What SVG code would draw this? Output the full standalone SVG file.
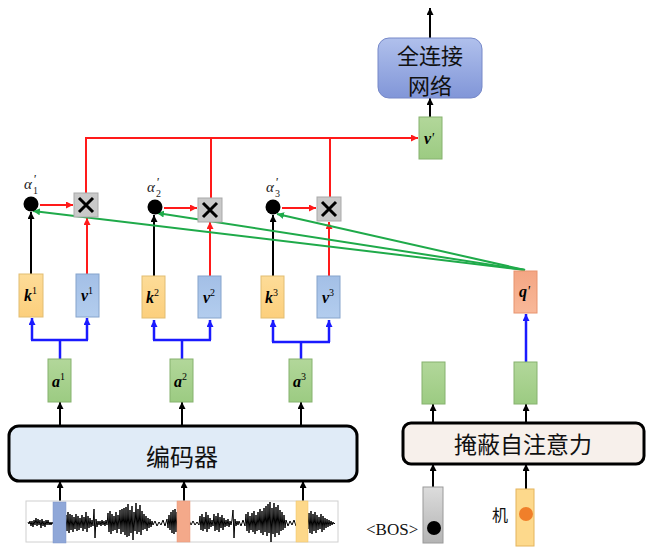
<svg xmlns="http://www.w3.org/2000/svg" width="651" height="552" viewBox="0 0 651 552">
<style>
.k{fill:url(#gk);stroke:#e2bd72;stroke-width:1}
.v{fill:url(#gv);stroke:#86a4cc;stroke-width:1}
.a{fill:url(#ga);stroke:#86b26e;stroke-width:1}
.x{fill:#c9c9c9;stroke:#a9a9a9;stroke-width:1}
.xm{stroke:#000;stroke-width:3;stroke-linecap:butt}
.lbl{font-family:"Liberation Serif",serif;font-weight:bold;font-style:italic;font-size:16px;fill:#000}
.sup{font-size:10px;font-weight:normal;font-style:normal}
.pr{font-family:"Liberation Serif",serif;font-size:14px;font-weight:normal;font-style:italic}
.al{font-family:"Liberation Serif",serif;font-style:italic;font-size:15px;fill:#222}
.sm{font-family:"Liberation Serif",serif;font-size:10px;fill:#222}
.ap{font-family:"Liberation Serif",serif;font-size:13px;font-style:italic;fill:#222}
.cjk{font-family:"Noto Sans CJK SC","Noto Sans",sans-serif;fill:#111}
.bk{stroke:#000;stroke-width:2;fill:none;marker-end:url(#mb)}
.rd{stroke:#ff1a1a;stroke-width:2;fill:none}
.rda{stroke:#ff1a1a;stroke-width:2;fill:none;marker-end:url(#mr)}
.bl{stroke:#1a1aff;stroke-width:2.5;fill:none}
.bla{stroke:#1a1aff;stroke-width:2.5;fill:none;marker-end:url(#mbl)}
.gr{stroke:#1faa4a;stroke-width:2;fill:none;marker-end:url(#mg)}
</style>
<defs>
<linearGradient id="gk" x1="0" y1="0" x2="0" y2="1"><stop offset="0" stop-color="#fddc98"/><stop offset="1" stop-color="#fccf7c"/></linearGradient>
<linearGradient id="gv" x1="0" y1="0" x2="0" y2="1"><stop offset="0" stop-color="#a3bfe6"/><stop offset="1" stop-color="#b3cdee"/></linearGradient>
<linearGradient id="ga" x1="0" y1="0" x2="0" y2="1"><stop offset="0" stop-color="#b2d79a"/><stop offset="1" stop-color="#9ccb82"/></linearGradient>
<linearGradient id="gq" x1="0" y1="0" x2="0" y2="1"><stop offset="0" stop-color="#f4a684"/><stop offset="1" stop-color="#f8b899"/></linearGradient>
<linearGradient id="gfc" x1="0" y1="0" x2="0" y2="1"><stop offset="0" stop-color="#b0c0ec"/><stop offset="1" stop-color="#8196d8"/></linearGradient>
<linearGradient id="ggray" x1="0" y1="0" x2="0" y2="1"><stop offset="0" stop-color="#dcdcdc"/><stop offset="1" stop-color="#b4b4b4"/></linearGradient>
<marker id="mb" viewBox="0 0 10 10" refX="10" refY="5" markerWidth="7" markerHeight="7" markerUnits="userSpaceOnUse" orient="auto"><path d="M0,0L10,5L0,10z" fill="#000"/></marker>
<marker id="mr" viewBox="0 0 10 10" refX="10" refY="5" markerWidth="7" markerHeight="7" markerUnits="userSpaceOnUse" orient="auto"><path d="M0,0L10,5L0,10z" fill="#ff1a1a"/></marker>
<marker id="mbl" viewBox="0 0 10 10" refX="10" refY="5" markerWidth="7" markerHeight="7" markerUnits="userSpaceOnUse" orient="auto"><path d="M0,0L10,5L0,10z" fill="#1a1aff"/></marker>
<marker id="mg" viewBox="0 0 10 10" refX="10" refY="5" markerWidth="7" markerHeight="7" markerUnits="userSpaceOnUse" orient="auto"><path d="M0,0L10,5L0,10z" fill="#1faa4a"/></marker>
</defs>
<rect width="651" height="552" fill="#fff"/>

<g id="connectors">
<path class="bk" d="M430,38V8"/>
<path class="bk" d="M430,117V98"/>
<path class="bk" d="M31,274V212"/>
<path class="bk" d="M154,276V215"/>
<path class="bk" d="M273,276V215"/>
<path class="bk" d="M60,426V402"/>
<path class="bk" d="M182,426V402"/>
<path class="bk" d="M301,426V402"/>
<path class="bk" d="M60,501V481"/>
<path class="bk" d="M184,501V481"/>
<path class="bk" d="M303,501V481"/>
<path class="bk" d="M433,423V404"/>
<path class="bk" d="M526,423V404"/>
<path class="bk" d="M433,487V464"/>
<path class="bk" d="M526,489V464"/>
<path class="rda" d="M40,205H73"/>
<path class="rda" d="M164,208H197"/>
<path class="rda" d="M282,208H316"/>
<path class="rda" d="M87,274V218"/>
<path class="rda" d="M210,276V222"/>
<path class="rda" d="M329,276V222"/>
<path class="rda" d="M86,193V138H418"/>
<path class="rd" d="M211,198V138"/>
<path class="rd" d="M330,197V138"/>
<path class="bl" d="M60,359V340M31,340H88"/>
<path class="bla" d="M32,340V318"/>
<path class="bla" d="M87,340V318"/>
<path class="bl" d="M182,359V340M153,340H211"/>
<path class="bla" d="M154,340V320"/>
<path class="bla" d="M210,340V320"/>
<path class="bl" d="M301,359V342M272,342H330"/>
<path class="bla" d="M273,342V320"/>
<path class="bla" d="M329,342V320"/>
<path class="bla" d="M526,362V314"/>
<path class="gr" d="M525,270L33,211"/>
<path class="gr" d="M525,270L157,213"/>
<path class="gr" d="M525,270L277,214"/>
</g>

<g id="fc">
<rect x="378" y="38" width="104" height="60" rx="11" fill="url(#gfc)" stroke="#7688c8" stroke-width="1"/>
<text class="cjk" x="430" y="64" font-size="22" text-anchor="middle">全连接</text>
<text class="cjk" x="430" y="94" font-size="22" text-anchor="middle">网络</text>
</g>

<g id="vprime">
<rect class="a" x="419" y="117" width="23" height="42"/>
<text class="lbl" x="424" y="144">v<tspan class="pr" dy="-1">'</tspan></text>
</g>

<g id="alpha1">
<circle cx="31" cy="204" r="7.5" fill="#000"/>
<text class="al" x="24" y="189">α</text>
<text class="ap" x="33" y="183">'</text>
<text class="sm" x="33" y="194">1</text>
</g>
<g id="alpha2">
<circle cx="155" cy="207" r="7.5" fill="#000"/>
<text class="al" x="147" y="192">α</text>
<text class="ap" x="156" y="186">'</text>
<text class="sm" x="156" y="197">2</text>
</g>
<g id="alpha3">
<circle cx="273" cy="207" r="7.5" fill="#000"/>
<text class="al" x="266" y="192">α</text>
<text class="ap" x="275" y="186">'</text>
<text class="sm" x="275" y="197">3</text>
</g>

<g id="mul1"><rect class="x" x="74" y="193" width="24" height="24"/><path class="xm" d="M79,198L93,212M93,198L79,212"/></g>
<g id="mul2"><rect class="x" x="198" y="198" width="24" height="24"/><path class="xm" d="M203,203L217,217M217,203L203,217"/></g>
<g id="mul3"><rect class="x" x="317" y="197" width="24" height="24"/><path class="xm" d="M322,202L336,216M336,202L322,216"/></g>

<g id="k1"><rect class="k" x="19" y="274" width="24" height="43"/><text class="lbl" x="24" y="301">k<tspan class="sup" dy="-7">1</tspan></text></g>
<g id="v1"><rect class="v" x="76" y="274" width="23" height="43"/><text class="lbl" x="81" y="301">v<tspan class="sup" dy="-7">1</tspan></text></g>
<g id="k2"><rect class="k" x="142" y="276" width="23" height="42"/><text class="lbl" x="146" y="303">k<tspan class="sup" dy="-7">2</tspan></text></g>
<g id="v2"><rect class="v" x="198" y="276" width="23" height="42"/><text class="lbl" x="203" y="303">v<tspan class="sup" dy="-7">2</tspan></text></g>
<g id="k3"><rect class="k" x="261" y="276" width="23" height="42"/><text class="lbl" x="265" y="303">k<tspan class="sup" dy="-7">3</tspan></text></g>
<g id="v3"><rect class="v" x="317" y="276" width="23" height="42"/><text class="lbl" x="322" y="303">v<tspan class="sup" dy="-7">3</tspan></text></g>

<g id="a1"><rect class="a" x="48" y="359" width="23" height="43"/><text class="lbl" x="52" y="387">a<tspan class="sup" dy="-7">1</tspan></text></g>
<g id="a2"><rect class="a" x="170" y="359" width="23" height="43"/><text class="lbl" x="174" y="387">a<tspan class="sup" dy="-7">2</tspan></text></g>
<g id="a3"><rect class="a" x="289" y="359" width="23" height="43"/><text class="lbl" x="293" y="387">a<tspan class="sup" dy="-7">3</tspan></text></g>

<g id="qprime">
<rect x="514" y="271" width="23" height="42" fill="url(#gq)" stroke="#e8936e" stroke-width="1"/>
<text class="lbl" x="519" y="297">q<tspan class="pr" dy="-1">'</tspan></text>
</g>

<g id="dec1"><rect class="a" x="422" y="362" width="23" height="42"/></g>
<g id="dec2"><rect class="a" x="514" y="362" width="23" height="42"/></g>

<g id="encoder">
<rect x="9" y="426" width="348" height="55" rx="10" fill="#e0ebf7" stroke="#000" stroke-width="3"/>
<text class="cjk" x="182" y="466" font-size="24" text-anchor="middle">编码器</text>
</g>

<g id="masked">
<rect x="403" y="423" width="241" height="41" rx="8" fill="#f7f0eb" stroke="#000" stroke-width="3"/>
<text class="cjk" x="523" y="453" font-size="23" text-anchor="middle">掩蔽自注意力</text>
</g>

<g id="waveform">
<rect x="26" y="501" width="312" height="41" fill="#fff" stroke="#d0d0d0" stroke-width="1"/>
<polyline fill="none" stroke="#000" stroke-width="1" points="28,522 29,524 30,521 31,526 32,521 33,527 34,520 35,525 36,518 37,526 38,519 39,525 40,520 41,528 42,519 43,526 44,521 45,527 46,520 47,525 48,520 49,525 50,522 51,525 52,522 53,524 54,519 56,527 58,518 60,528 62,519 64,527 66,515 67,531 68,512 69,533 70,514 71,530 72,515 73,532 74,517 75,529 76,514 77,531 78,516 79,530 80,518 81,528 82,515 83,531 84,517 85,529 86,512 87,532 88,516 89,528 90,518 91,527 92,520 93,526 94,509 95,538 96,519 97,527 98,521 99,525 100,521 101,526 102,520 103,525 104,521 105,526 106,520 107,525 108,513 109,532 110,511 111,534 112,514 113,531 114,516 115,530 116,512 117,533 118,515 119,529 120,510 121,534 122,509 123,532 124,508 125,535 126,507 127,537 128,504 129,536 130,510 131,533 132,506 133,540 134,512 135,531 136,503 137,534 138,509 139,532 140,505 141,535 142,511 143,530 144,514 145,529 146,516 147,531 148,518 149,528 150,519 151,527 152,521 153,525 155,521 157,526 159,522 161,525 163,520 165,526 167,519 168,528 169,515 170,530 171,512 172,533 173,510 174,534 175,509 176,532 177,512 179,532 181,514 183,530 185,517 187,528 189,520 191,525 193,521 195,525 197,522 199,525 200,516 201,530 202,514 203,531 204,517 205,529 206,512 207,532 208,515 209,529 210,518 211,527 212,520 213,526 214,514 215,531 216,516 217,530 218,513 219,532 220,517 221,528 222,515 223,530 224,518 225,527 226,520 227,526 228,519 229,527 230,521 231,525 232,520 233,510 234,538 235,519 236,526 237,521 238,525 239,521 241,526 243,520 245,526 246,514 247,531 248,512 249,533 250,516 251,530 252,513 253,532 254,511 255,534 256,515 257,531 258,512 259,530 260,509 261,533 262,511 263,535 264,508 265,532 266,506 267,536 268,504 269,533 270,502 271,542 272,508 273,534 274,503 275,537 276,507 277,533 278,505 279,535 280,510 281,531 282,512 283,530 284,515 285,528 286,520 288,526 290,521 292,525 294,520 296,526 298,515 300,530 302,514 304,531 306,516 308,529 309,513 310,533 311,511 312,534 313,514 314,531 315,512 316,533 317,515 318,530 319,517 320,529 321,514 322,532 323,516 324,530 325,518 326,528 327,519 328,527 329,520 330,526 331,521 332,525 333,522 334,524 335,523"/>
<rect x="53" y="502" width="13" height="41" fill="#8fa7d8" stroke="#7d95c8" stroke-width="0.5"/>
<rect x="177" y="501" width="13" height="41" fill="#f4a98a" stroke="#e8967a" stroke-width="0.5"/>
<rect x="296" y="501" width="12" height="41" fill="#fdd88a" stroke="#f0c466" stroke-width="0.5"/>
</g>

<g id="bos">
<rect x="423" y="487" width="20" height="56" fill="url(#ggray)" stroke="#9a9a9a" stroke-width="1"/>
<circle cx="434" cy="528" r="7" fill="#000"/>
<text x="366" y="535" font-family="Liberation Serif,serif" font-size="17" fill="#111">&lt;BOS&gt;</text>
</g>

<g id="ji">
<rect x="516" y="489" width="18" height="57" fill="#fdd98c" stroke="#e4b45c" stroke-width="1"/>
<circle cx="526" cy="514" r="7" fill="#f07f2a"/>
<text class="cjk" x="492" y="521" font-size="16">机</text>
</g>
</svg>
